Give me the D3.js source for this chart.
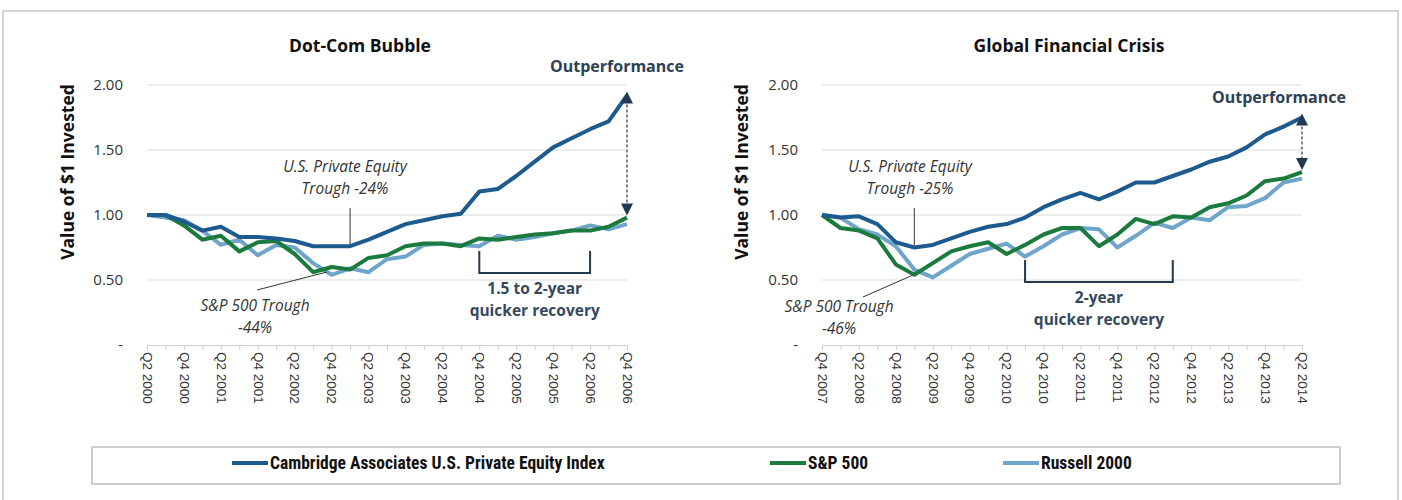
<!DOCTYPE html>
<html>
<head>
<meta charset="utf-8">
<script src="https://cdn.jsdelivr.net/npm/d3@7"></script>
<style>
body{margin:0;background:#fff;font-family:"Open Sans",sans-serif}
</style>
</head>
<body>
<div id="chart"></div>
<script>
'use strict'

// quarters
function quarters(startQ, startY, n){
	let out = []
	let q = startQ, y = startY
	for(let i = 0; i < n; i++){
		out.push("Q" + q + " " + y)
		q++
		if(q > 4){ q = 1; y++ }
	}
	return out
}
var dotcomQuarters = quarters(2, 2000, 27)
var gfcQuarters = quarters(4, 2007, 27)

var dotcomPE = [1.00,1.00,0.95,0.88,0.91,0.83,0.83,0.82,0.80,0.76,0.76,0.76,0.81,0.87,0.93,0.96,0.99,1.01,1.18,1.20,1.30,1.41,1.52,1.59,1.66,1.72,1.92]
var dotcomSP = [1.00,1.00,0.92,0.81,0.84,0.72,0.79,0.80,0.70,0.56,0.60,0.58,0.67,0.69,0.76,0.78,0.78,0.76,0.82,0.81,0.83,0.85,0.86,0.88,0.88,0.91,0.98]
var dotcomR2 = [1.00,0.98,0.96,0.88,0.77,0.81,0.69,0.77,0.75,0.63,0.54,0.59,0.56,0.66,0.68,0.77,0.78,0.77,0.76,0.84,0.81,0.83,0.86,0.88,0.92,0.89,0.93]

var gfcPE = [1.00,0.98,0.99,0.93,0.79,0.75,0.77,0.82,0.87,0.91,0.93,0.98,1.06,1.12,1.17,1.12,1.18,1.25,1.25,1.30,1.35,1.41,1.45,1.52,1.62,1.68,1.75]
var gfcSP = [1.00,0.90,0.88,0.82,0.62,0.54,0.63,0.72,0.76,0.79,0.70,0.77,0.85,0.90,0.90,0.76,0.85,0.97,0.93,0.99,0.98,1.06,1.09,1.15,1.26,1.28,1.33]
var gfcR2 = [1.00,0.98,0.89,0.85,0.76,0.58,0.52,0.61,0.70,0.74,0.78,0.68,0.76,0.85,0.90,0.89,0.75,0.84,0.94,0.90,0.98,0.96,1.06,1.07,1.13,1.25,1.28]

var yTicks = [0, 0.5, 1, 1.5, 2]
var yTickLabels = ["-", "0.50", "1.00", "1.50", "2.00"]

var seriesNames = ["Cambridge Associates U.S. Private Equity Index", "S&P 500", "Russell 2000"]
var seriesColors = ["#1d5b8f", "#1b7a3d", "#6fa5cb"]
var navy = "#22394f"

let svg = d3.select("#chart").append("svg")
	.attr("width", 1402)
	.attr("height", 500)

svg.append("rect")
	.attr("x", 3).attr("y", 11)
	.attr("width", 1395).attr("height", 520)
	.attr("fill", "none")
	.attr("stroke", "#c8c8c8")
	.attr("stroke-width", 1.5)

function drawPanel(opts){
	let x = d3.scalePoint()
		.domain(opts.quarters)
		.range([opts.x0, opts.x1])
	let y = d3.scaleLinear()
		.domain([0, 2])
		.range([345, 85])

	let g = svg.append("g")

	// title
	g.append("text")
		.attr("x", opts.titleX)
		.attr("y", 52)
		.attr("text-anchor", "middle")
		.attr("font-size", 17.5)
		.attr("font-weight", "bold")
		.attr("fill", "#111")
		.text(opts.title)

	// gridlines
	g.selectAll(".grid")
		.data(yTicks.slice(1))
		.enter().append("line")
		.attr("x1", opts.x0).attr("x2", opts.x1)
		.attr("y1", function(d){ return y(d) })
		.attr("y2", function(d){ return y(d) })
		.attr("stroke", "#dcdcdc")
		.attr("stroke-width", 1.2)

	// y axis
	let ya = g.append("g")
		.attr("transform", "translate(" + (opts.x0 - 21) + ",0)")
		.call(d3.axisLeft(y).tickValues(yTicks).tickSize(0).tickFormat(function(d, i){ return yTickLabels[i] }))
	ya.select(".domain").remove()
	ya.selectAll("text")
		.attr("font-family", "Open Sans")
		.attr("font-size", 15)
		.attr("fill", "#333")

	g.append("text")
		.attr("transform", "translate(" + opts.yTitleX + ",172) rotate(-90)")
		.attr("text-anchor", "middle")
		.attr("font-size", 17.5)
		.attr("font-weight", "bold")
		.attr("fill", "#111")
		.text("Value of $1 Invested")

	// x axis
	let xa = g.append("g")
		.attr("transform", "translate(0," + y(0) + ")")
		.call(d3.axisBottom(x).tickSize(5).tickFormat(function(d, i){ return i % 2 == 0 ? d : "" }))
	xa.select(".domain").attr("stroke", "#cfcfcf")
	xa.selectAll(".tick line").attr("stroke", "#cfcfcf")
	xa.selectAll(".tick text")
		.attr("font-family", "Liberation Sans")
		.attr("font-size", 13.5)
		.attr("fill", "#333")
		.attr("text-anchor", "start")
		.attr("transform", "rotate(90)")
		.attr("x", 7)
		.attr("y", 0)
		.attr("dy", "0.35em")

	// lines
	let line = d3.line()
		.x(function(d, i){ return x(opts.quarters[i]) })
		.y(function(d){ return y(d) })
	let order = [2, 1, 0]
	order.forEach(function(k){
		g.append("path")
			.datum(opts.series[k])
			.attr("d", line)
			.attr("fill", "none")
			.attr("stroke", seriesColors[k])
			.attr("stroke-width", 4)
			.attr("stroke-linejoin", "round")
	})

	let ann = g.append("g").attr("font-style", "italic").attr("font-size", 15.5).attr("fill", "#333")

	// PE trough
	let peX = x(opts.quarters[opts.peTrough])
	g.append("line")
		.attr("x1", peX).attr("x2", peX)
		.attr("y1", 208).attr("y2", y(opts.series[0][opts.peTrough]) - 2)
		.attr("stroke", "#333").attr("stroke-width", 1)
	ann.append("text").attr("x", opts.peLabelX).attr("y", 172).attr("text-anchor", "middle").text("U.S. Private  Equity")
	ann.append("text").attr("x", opts.peLabelX).attr("y", 194).attr("text-anchor", "middle").text("Trough " + opts.peText)

	// S&P trough
	g.append("line")
		.attr("x1", opts.spLine[0]).attr("y1", opts.spLine[1])
		.attr("x2", opts.spLine[2]).attr("y2", opts.spLine[3])
		.attr("stroke", "#333").attr("stroke-width", 1)
	ann.append("text").attr("x", opts.spLabelX).attr("y", opts.spLabelY).attr("text-anchor", "middle").text("S&P 500 Trough")
	ann.append("text").attr("x", opts.spLabelX).attr("y", opts.spLabelY + 22).attr("text-anchor", "middle").text(opts.spText)

	// outperformance arrow
	let last = opts.quarters.length - 1
	let ax = x(opts.quarters[last])
	let yTop = y(opts.series[0][last]) - 4
	let yBot = y(opts.series[1][last]) - 2
	g.append("line")
		.attr("x1", ax).attr("x2", ax)
		.attr("y1", yTop + 8).attr("y2", yBot - 8)
		.attr("stroke", navy).attr("stroke-width", 1.2)
		.attr("stroke-dasharray", "3,2")
	g.append("path")
		.attr("d", "M" + ax + "," + yTop + "l-6,12h12z")
		.attr("fill", navy)
	g.append("path")
		.attr("d", "M" + ax + "," + yBot + "l-6,-12h12z")
		.attr("fill", navy)
	g.append("text")
		.attr("x", opts.outX).attr("y", opts.outY)
		.attr("text-anchor", "middle")
		.attr("font-size", 16)
		.attr("font-weight", "bold")
		.attr("fill", "#2c4156")
		.text("Outperformance")

	// recovery bracket
	let bx0 = x(opts.quarters[opts.bracket[0]])
	let bx1 = x(opts.quarters[opts.bracket[1]])
	g.append("path")
		.attr("d", "M" + bx0 + "," + opts.bracketY[0] + "V" + opts.bracketY[1] + "H" + bx1 + "V" + opts.bracketY[0])
		.attr("fill", "none")
		.attr("stroke", navy)
		.attr("stroke-width", 2)
	opts.recText.forEach(function(t, i){
		g.append("text")
			.attr("x", (bx0 + bx1) / 2)
			.attr("y", opts.bracketY[1] + 21 + i * 22)
			.attr("text-anchor", "middle")
			.attr("font-size", 15.5)
			.attr("font-weight", "bold")
			.attr("fill", "#34495e")
			.text(t)
	})
}

drawPanel({
	title: "Dot-Com Bubble", titleX: 360,
	quarters: dotcomQuarters, x0: 147, x1: 627, yTitleX: 74,
	series: [dotcomPE, dotcomSP, dotcomR2],
	peTrough: 11, peLabelX: 345, peText: "-24%",
	spLine: [257, 290, 327, 272], spLabelX: 255, spLabelY: 311, spText: "-44%",
	outX: 617, outY: 72,
	bracket: [18, 24], bracketY: [251, 273], recText: ["1.5  to 2-year", "quicker recovery"]
})

drawPanel({
	title: "Global Financial Crisis", titleX: 1069,
	quarters: gfcQuarters, x0: 822, x1: 1302, yTitleX: 748,
	series: [gfcPE, gfcSP, gfcR2],
	peTrough: 5, peLabelX: 910, peText: "-25%",
	spLine: [863, 297, 913, 275], spLabelX: 839, spLabelY: 312, spText: "-46%",
	outX: 1279, outY: 103,
	bracket: [11, 19], bracketY: [260, 282], recText: ["2-year", "quicker recovery"]
})

// legend
svg.append("rect")
	.attr("x", 92).attr("y", 447)
	.attr("width", 1248).attr("height", 37)
	.attr("fill", "none")
	.attr("stroke", "#bdbdbd")
	.attr("stroke-width", 1.5)

let legendX = [232, 770, 1003]
let lg = svg.selectAll(".legend")
	.data(seriesNames)
	.enter().append("g")
	.attr("transform", function(d, i){ return "translate(" + legendX[i] + ",463)" })
lg.append("line")
	.attr("x1", 0).attr("x2", 36)
	.attr("stroke", function(d, i){ return seriesColors[i] })
	.attr("stroke-width", 4)
lg.append("text")
	.attr("x", 38)
	.attr("dy", "0.35em")
	.attr("font-family", "Liberation Sans Narrow, Roboto Condensed, sans-serif")
	.attr("font-weight", "bold")
	.attr("font-size", 17.5)
	.attr("fill", "#111")
	.text(function(d){ return d })
</script>
</body>
</html>
